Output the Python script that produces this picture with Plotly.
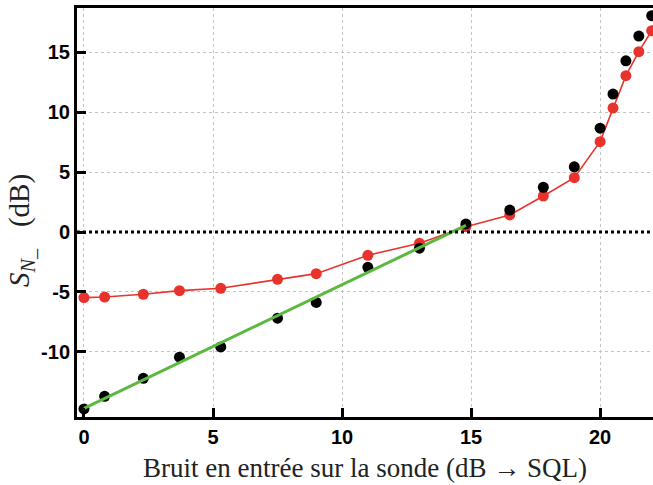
import plotly.graph_objects as go

x_vals = [0, 0.8, 2.3, 3.7, 5.3, 7.5, 9.0, 11.0, 13.0, 14.8, 16.5, 17.8, 19.0, 20.0, 20.5, 21.0, 21.5, 22.0]
black_y = [-14.75, -13.7, -12.2, -10.43, -9.58, -7.18, -5.87, -2.94, -1.35, 0.67, 1.83, 3.73, 5.43, 8.65, 11.5, 14.27, 16.33, 18.03]
red_y = [-5.47, -5.42, -5.19, -4.89, -4.69, -3.94, -3.47, -1.94, -0.94, 0.44, 1.42, 3.0, 4.53, 7.53, 10.33, 13.03, 15.03, 16.78]
fit_x = [0, 14.8]
fit_y = [-14.7, 0.55]

xticks = [0, 5, 10, 15, 20]
xticktext = ["0", "5", "10", "15", "20"]
yticks = [-10, -5, 0, 5, 10, 15]
yticktext = ["-10", "-5", "0", "5", "10", "15"]

RED = "#e8332d"
GREEN = "#5cb83e"

fig = go.Figure()
fig.add_trace(go.Scatter(x=x_vals, y=red_y, mode="lines+markers",
                         line=dict(color=RED, width=1.6),
                         marker=dict(color=RED, size=11), cliponaxis=True))
fig.add_trace(go.Scatter(x=x_vals, y=black_y, mode="markers",
                         marker=dict(color="black", size=11), cliponaxis=True))
fig.add_trace(go.Scatter(x=fit_x, y=fit_y, mode="lines",
                         line=dict(color=GREEN, width=3)))

fig.add_shape(type="line", xref="paper", yref="y", x0=0, x1=1, y0=0, y1=0,
              line=dict(color="black", width=3, dash="dot"))

tickfont = dict(family="Liberation Sans, Arial, sans-serif", size=20, color="black", weight="bold")
xtitlefont = dict(family="Liberation Serif, serif", size=27, color="#222")
ytitlefont = dict(family="Liberation Serif, serif", size=29, color="#222")

fig.add_annotation(text="<i>S</i><sub><i>N</i>_</sub>   (dB)", textangle=-90,
                   xref="paper", yref="paper", x=-0.097, y=0.455,
                   xanchor="center", yanchor="middle", showarrow=False,
                   font=ytitlefont)

fig.update_layout(
    width=653, height=485,
    margin=dict(l=77, r=0, t=8, b=68, autoexpand=False),
    paper_bgcolor="white", plot_bgcolor="white",
    showlegend=False,
    xaxis=dict(range=[-0.27, 22.05], tickvals=xticks, ticktext=xticktext,
               ticks="inside", ticklen=9, tickwidth=3, tickcolor="black",
               showline=True, linewidth=3, linecolor="black", mirror=True,
               showgrid=True, gridcolor="#c4c4c4", griddash="dot", gridwidth=1,
               zeroline=False, tickfont=tickfont, automargin=False,
               title=dict(text="Bruit en entrée sur la sonde (dB → SQL)", font=xtitlefont, standoff=12)),
    yaxis=dict(range=[-15.42, 18.67], tickvals=yticks, ticktext=yticktext,
               ticks="inside", ticklen=9, tickwidth=3, tickcolor="black",
               showline=True, linewidth=3, linecolor="black", mirror=False,
               showgrid=True, gridcolor="#c4c4c4", griddash="dot", gridwidth=1,
               zeroline=False, tickfont=tickfont, automargin=False),
)

fig.write_html("out.html", config={"displayModeBar": False},
               post_script="document.body.style.margin='0';document.body.style.overflow='hidden';")
